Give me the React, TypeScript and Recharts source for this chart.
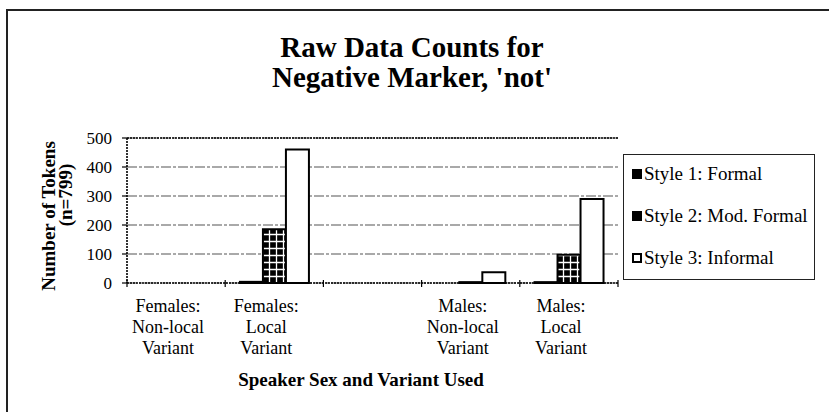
import React from 'react';
import { BarChart, Bar, XAxis, YAxis, CartesianGrid, Legend, ReferenceLine, Label } from 'recharts';

// ---- data ----
const categories = [
  'Females:\nNon-local\nVariant',
  'Females:\nLocal\nVariant',
  '',
  'Males:\nNon-local\nVariant',
  'Males:\nLocal\nVariant',
];
const style1Formal = [0, 4, 0, 0, 3];
const style2ModFormal = [0, 185, 0, 3, 97];
const style3Informal = [0, 460, 0, 37, 290];
const seriesNames = ['Style 1: Formal', 'Style 2: Mod. Formal', 'Style 3: Informal'];
const yTicks = [0, 100, 200, 300, 400, 500];
const titleLines = ['Raw Data Counts for', "Negative Marker, 'not'"];
const yTitleLines = ['Number of Tokens', '(n=799)'];
const xTitle = 'Speaker Sex and Variant Used';

const data = categories.map((c, i) => ({
  cat: c,
  s1: style1Formal[i],
  s2: style2ModFormal[i],
  s3: style3Informal[i],
}));

// ---- layout ----
const W = 829;
const H = 412;
const PLOT_LEFT = 127;
const PLOT_RIGHT = 618;
const PLOT_TOP = 138;
const PLOT_BOTTOM = 283;
const FONT = "'Liberation Serif', 'Times New Roman', serif";

const DOTTED = { stroke: '#000', strokeWidth: 1.6, strokeDasharray: '2 1' };

const CategoryTick = (props: any) => {
  const { x, y, payload, index } = props;
  const band = (PLOT_RIGHT - PLOT_LEFT) / categories.length;
  const lines = String(payload.value).split('\n').filter((l) => l.length > 0);
  const bx = x - band / 2;
  return (
    <g>
      <line x1={bx} x2={bx} y1={y - 3} y2={y + 4} stroke="#000" strokeWidth={1.2} />
      {index === categories.length - 1 && (
        <line x1={x + band / 2} x2={x + band / 2} y1={y - 3} y2={y + 4} stroke="#000" strokeWidth={1.2} />
      )}
      {lines.map((l, i) => (
        <text
          key={i}
          x={x - 8}
          y={y + 29 + i * 21}
          textAnchor="middle"
          fontFamily={FONT}
          fontSize={18}
          fill="#000"
        >
          {l}
        </text>
      ))}
    </g>
  );
};

const XTitle = () => (
  <text
    x={361}
    y={386}
    textAnchor="middle"
    fontFamily={FONT}
    fontSize={19}
    fontWeight="bold"
    fill="#000"
  >
    {xTitle}
  </text>
);

const YTitle = () => (
  <g>
    <text
      transform={`translate(55, 216) rotate(-90)`}
      textAnchor="middle"
      fontFamily={FONT}
      fontSize={19}
      fontWeight="bold"
      fill="#000"
    >
      {yTitleLines[0]}
    </text>
    <text
      transform={`translate(72, 195) rotate(-90)`}
      textAnchor="middle"
      fontFamily={FONT}
      fontSize={19}
      fontWeight="bold"
      fill="#000"
    >
      {yTitleLines[1]}
    </text>
  </g>
);

const LegendBox = (props: any) => {
  const payload = props.payload || [];
  return (
    <div
      style={{
        position: 'relative',
        boxSizing: 'border-box',
        width: 192,
        height: 126,
        border: '1.5px solid #222',
        background: '#fff',
        fontFamily: FONT,
        fontSize: 19,
        color: '#000',
      }}
    >
      {payload.map((p: any, i: number) => (
        <div
          key={i}
          style={{
            position: 'absolute',
            left: 8,
            top: 8 + i * 42,
            height: 22,
            lineHeight: '22px',
            whiteSpace: 'nowrap',
            display: 'flex',
            alignItems: 'center',
          }}
        >
          <span
            style={{
              display: 'inline-block',
              boxSizing: 'border-box',
              width: 10,
              height: 10,
              marginRight: 2,
              background: i === 2 ? '#fff' : '#000',
              border: '2px solid #000',
            }}
          />
          <span>{p.value}</span>
        </div>
      ))}
    </div>
  );
};

export default function App() {
  return (
    <div
      style={{
        position: 'absolute',
        left: 0,
        top: 0,
        width: W,
        height: H,
        overflow: 'hidden',
        background: '#fff',
      }}
    >
      <div
        style={{
          position: 'absolute',
          left: 6,
          top: 9,
          width: 1000,
          height: 700,
          border: '2px solid #222',
        }}
      />
      <div style={{ position: 'absolute', left: 0, top: 0 }}>
        <BarChart
          width={W}
          height={H}
          data={data}
          margin={{ top: PLOT_TOP, right: W - PLOT_RIGHT, bottom: 9, left: 0 }}
          barCategoryGap="15%"
          barGap={0}
        >
          <defs>
            <pattern id="gridFill" width="7" height="7" patternUnits="userSpaceOnUse">
              <rect width="7" height="7" fill="#000" />
              <path d="M 3.5 0 V 7 M 0 3.5 H 7" stroke="#fff" strokeWidth="1.3" />
            </pattern>
          </defs>
          <CartesianGrid vertical={false} stroke="#555" strokeWidth={1.2} strokeDasharray="10 2 3 2" />
          <XAxis
            dataKey="cat"
            interval={0}
            height={H - PLOT_BOTTOM - 9}
            tickLine={false}
            tickSize={0}
            tickMargin={0}
            axisLine={DOTTED}
            tick={<CategoryTick />}
          >
            <Label content={<XTitle />} />
          </XAxis>
          <YAxis
            domain={[0, 500]}
            ticks={yTicks}
            width={PLOT_LEFT}
            tickSize={5}
            tickMargin={10}
            tickLine={{ stroke: '#000', strokeWidth: 1.2 }}
            axisLine={DOTTED}
            tick={{ fill: '#000', fontSize: 17, fontFamily: FONT }}
          >
            <Label content={<YTitle />} />
          </YAxis>
          <YAxis
            yAxisId="r"
            orientation="right"
            domain={[0, 500]}
            width={0}
            tick={false}
            tickLine={false}
            axisLine={DOTTED}
          />
          <ReferenceLine y={500} {...DOTTED} />
          <Legend
            layout="vertical"
            align="center"
            verticalAlign="middle"
            wrapperStyle={{ left: 623, top: 154, width: 192, height: 126 }}
            content={<LegendBox />}
          />
          <Bar dataKey="s1" name={seriesNames[0]} fill="#000" stroke="#000" strokeWidth={2} isAnimationActive={false} />
          <Bar dataKey="s2" name={seriesNames[1]} fill="url(#gridFill)" stroke="#000" strokeWidth={2} isAnimationActive={false} />
          <Bar dataKey="s3" name={seriesNames[2]} fill="#fff" stroke="#000" strokeWidth={2} isAnimationActive={false} />
        </BarChart>
      </div>
      <svg
        width={W}
        height={H}
        style={{ position: 'absolute', left: 0, top: 0, pointerEvents: 'none' }}
      >
        {titleLines.map((t, i) => (
          <text
            key={i}
            x={412}
            y={57 + i * 30}
            textAnchor="middle"
            fontFamily={FONT}
            fontSize={29}
            fontWeight="bold"
            fill="#000"
          >
            {t}
          </text>
        ))}
      </svg>
    </div>
  );
}
